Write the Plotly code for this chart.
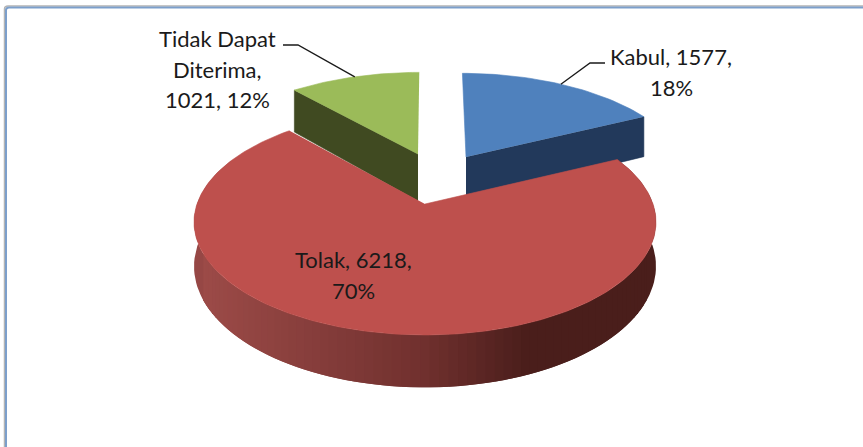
import numpy as np
import plotly.graph_objects as go

categories = ["Kabul", "Tolak", "Tidak Dapat Diterima"]
values = [1577, 6218, 1021]
label_lines = {
    "Kabul": ["Kabul, 1577,", "18%"],
    "Tolak": ["Tolak, 6218,", "70%"],
    "Tidak Dapat Diterima": ["Tidak Dapat", "Diterima,", "1021, 12%"],
}

W, H = 863, 447
CX, CY = 425, 204          # apex of the large slice
BLUE_G = dict(rx=218, ry=102, p=0.219)
GREEN_G = dict(rx=218, ry=99.5, p=0.219)
LARGE = dict(rx=228, ry=110, p=0.16)
DEPTH, DP = 43, 0.18

total = sum(values)
fracs = [v / total for v in values]
cum = np.cumsum([0] + fracs)
# clockwise from north
th_start = [90 - 360 * c for c in cum[:-1]]
th_end = [90 - 360 * c for c in cum[1:]]


def proj(theta, ax, ay, ox=0, g=LARGE):
    t = np.radians(theta)
    w = 1 + g["p"] * np.sin(t)
    x = ax - ox + (ox + g["rx"] * np.cos(t)) / w
    y = ay - g["ry"] * np.sin(t) / w
    return x, y


def drop(theta):
    return DEPTH / (1 + DP * np.sin(np.radians(theta)))


fig = go.Figure()


def poly(xs, ys, color, lw=0.6):
    fig.add_trace(go.Scatter(x=xs, y=ys, mode="lines", fill="toself", fillcolor=color,
                             line=dict(color=color, width=lw), hoverinfo="skip", showlegend=False))


def lerp(c1, c2, f):
    f = min(max(f, 0), 1)
    return "rgb(%d,%d,%d)" % tuple(round(a + (b - a) * f) for a, b in zip(c1, c2))


# Kabul (exploded)
ax, ay = CX + 41, CY - 47
th = np.linspace(th_start[0], th_end[0], 40)
rx, ry = proj(th, ax, ay, 20, BLUE_G)
ex, ey = rx[-1], ry[-1]
poly([ax, ex, ex, ax], [ay, ey, ey + drop(th[-1]), ay + DEPTH], "#22395b")
poly([ax, *rx], [ay, *ry], "#4f81bd")
kx, ky = proj((th_start[0] + th_end[0]) / 2, ax, ay, 20, BLUE_G)

# Tidak Dapat Diterima (exploded); the wall runs on under the large slice
ax, ay = CX - 7, CY - 50
th = np.linspace(th_start[2], th_end[2], 40)
rx, ry = proj(th, ax, ay, -7, GREEN_G)
sx, sy = rx[0], ry[0]
poly([ax, sx, sx, ax], [ay, sy, sy + drop(th[0]) + 4, ay + DEPTH + 4], "#404a21")
poly([ax, *rx], [ay, *ry], "#9bbb59")
gx, gy = proj((th_start[2] + th_end[2]) / 2, ax, ay, -7, GREEN_G)

# Tolak: gradient outer wall then top face
a_start = th_start[1]
a_end = th_end[1]
xmin, xmax = CX - 232, CX + 232
left_c, mid_c, right_c = (158, 76, 73), (112, 48, 46), (74, 30, 27)


def wall_colour(theta):
    xm = proj(theta, CX, CY, 0, LARGE)[0]
    f = (xm - xmin) / (xmax - xmin)
    return lerp(left_c, mid_c, f / 0.5) if f < 0.5 else lerp(mid_c, right_c, (f - 0.5) / 0.22)


# shoulders first, so the swept strips overlap them
for rng in ((a_start, -30), (-150, -205)):
    tt = np.linspace(rng[0], rng[1], 30)
    x, y = proj(tt, CX, CY, 0, LARGE)
    d = drop(tt)
    poly([*x, *x[::-1]], [*y, *(y + d)[::-1]], wall_colour(rng[1]), 0)
# front part of the rim, swept from the right-hand side to the left-hand side
edges = np.linspace(-25, -155, 66)
for a, b in zip(edges[:-1], edges[1:]):
    tt = np.clip(np.linspace(a, b - (edges[0] - edges[1]), 5), edges[-1], edges[0])
    x, y = proj(tt, CX, CY, 0, LARGE)
    d = drop(tt)
    poly([*x, *x[::-1]], [*y, *(y + d)[::-1]], wall_colour((a + b) / 2), 0)
th = np.linspace(a_start, a_end, 240)
rx, ry = proj(th, CX, CY, 0, LARGE)
poly([CX, *rx], [CY, *ry], "#be504d")

# Leader lines
leader = dict(color="#1a1a1a", width=1.3)
fig.add_trace(go.Scatter(x=[283, 298, gx], y=[45, 45, gy], mode="lines", line=leader,
                         hoverinfo="skip", showlegend=False))
fig.add_trace(go.Scatter(x=[605, 590, kx], y=[63, 63, ky], mode="lines", line=leader,
                         hoverinfo="skip", showlegend=False))

# Labels, one annotation per line for the exact leading
FONT = dict(family="Lato", size=22, color="#1a1a1a")
anchors = {"Kabul": (671, 56.5), "Tolak": (353, 259.5), "Tidak Dapat Diterima": (217, 38.5)}
LEAD = 30.5
for c in categories:
    x, y = anchors[c]
    for i, line in enumerate(label_lines[c]):
        fig.add_annotation(x=x, y=y + i * LEAD, xref="x", yref="y", text=line,
                           showarrow=False, font=FONT, xanchor="center", yanchor="middle")

fig.add_shape(type="path", xref="x", yref="y", path=f"M 4.5 {H} L 4.5 9 Q 4.5 6 8 6 L {W} 6",
              line=dict(color="#b4b4b4", width=1.5), layer="below")
fig.add_shape(type="path", xref="x", yref="y", path=f"M 6 {H} L 6 10 Q 6 7.5 9 7.5 L {W} 7.5",
              line=dict(color="#7c9fcb", width=2), layer="below")

fig.update_layout(
    width=W, height=H, margin=dict(l=0, r=0, t=0, b=0),
    paper_bgcolor="white", plot_bgcolor="white", showlegend=False,
    xaxis=dict(range=[0, W], visible=False, fixedrange=True),
    yaxis=dict(range=[H, 0], visible=False, fixedrange=True),
)
fig.write_html("out.html", config={"displayModeBar": False},
               post_script="document.body.style.margin='0';document.body.style.overflow='hidden';")
